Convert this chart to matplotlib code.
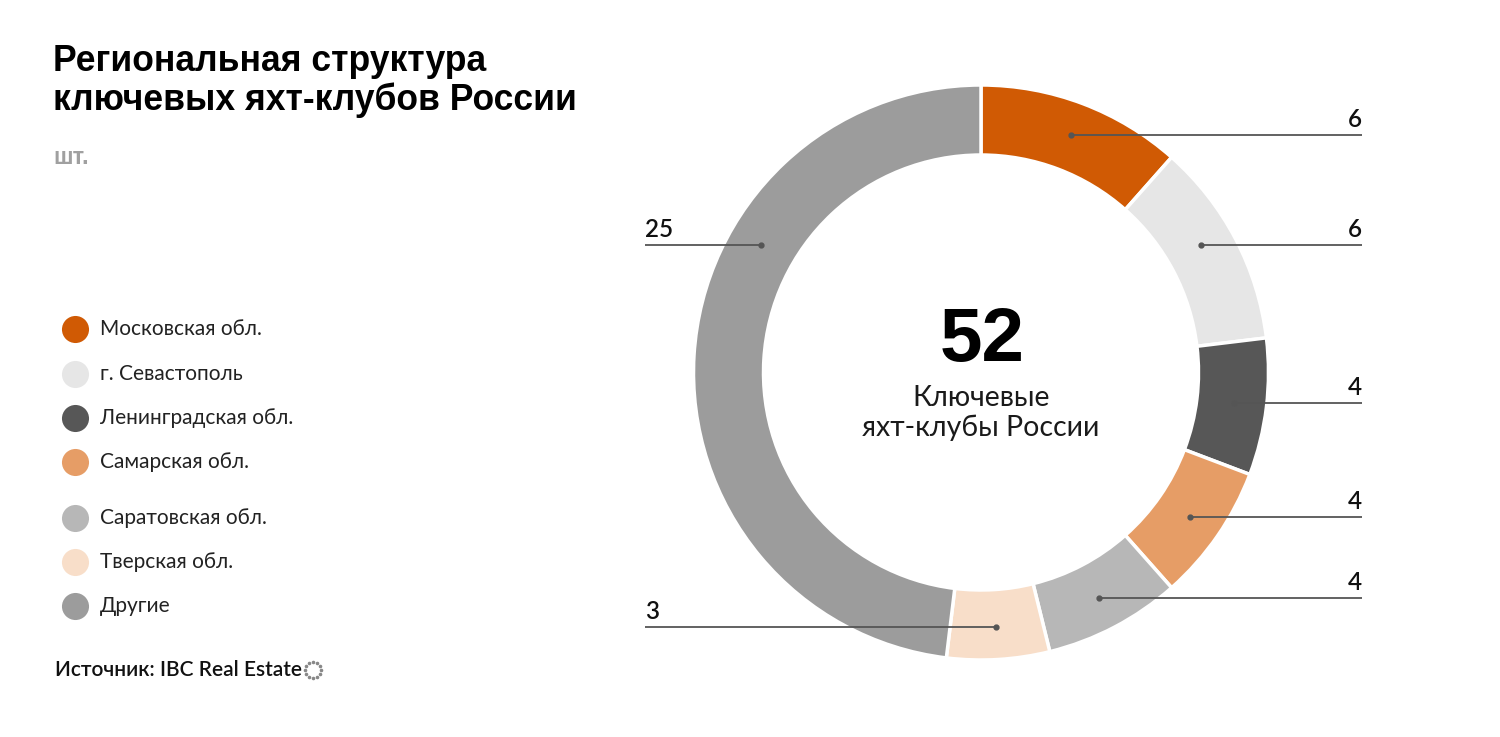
import matplotlib
matplotlib.use("Agg")
import matplotlib.pyplot as plt
import numpy as np

# ---- data ----
categories = ["Московская обл.", "г. Севастополь", "Ленинградская обл.",
              "Самарская обл.", "Саратовская обл.", "Тверская обл.", "Другие"]
values = [6, 6, 4, 4, 4, 3, 25]
colors = ["#D05A04", "#E6E6E6", "#575757", "#E69D66", "#B7B7B7", "#F8DEC9", "#9C9C9C"]
total_label = "52"
center_caption = "Ключевые\nяхт-клубы России"
title = "Региональная структура\nключевых яхт-клубов России"
unit = "шт."
source = "Источник: IBC Real Estate"

W, H = 1500, 737
fig = plt.figure(figsize=(W / 100, H / 100), dpi=100)
ax = fig.add_axes([0, 0, 1, 1])

def Y(py):
    return H - py

cx, cy = 981, Y(372.5)
R = 287.5
ring = 70

wedges, _ = ax.pie(values, colors=colors, startangle=90, counterclock=False,
                   radius=R, center=(cx, cy),
                   wedgeprops=dict(width=ring, edgecolor="white", linewidth=2.5))
ax.set_xlim(0, W)
ax.set_ylim(0, H)
ax.set_aspect("equal", adjustable="box")
ax.axis("off")

# ---- leader lines ----
r_mid = R - ring / 2 + 2
side = ["r", "r", "r", "r", "r", "l", "l"]
angle_override = {1: 30.0, 6: 150.0}
x_right, x_left = 1362, 645
for i, w in enumerate(wedges):
    ang = angle_override.get(i, (w.theta1 + w.theta2) / 2)
    px = cx + r_mid * np.cos(np.radians(ang))
    py = cy + r_mid * np.sin(np.radians(ang))
    xe = x_right if side[i] == "r" else x_left
    ax.plot([px, xe], [py, py], color="#555555", lw=1.3, solid_capstyle="butt", zorder=5)
    ax.plot([px], [py], "o", color="#555555", ms=3.5, zorder=6)
    ax.text(xe, py + 4, str(values[i]), ha="right" if side[i] == "r" else "left",
            va="bottom", fontsize=17.5, fontweight="semibold", family="Lato", color="#111111")

# ---- center ----
ax.text(cx + 1, Y(341), total_label, ha="center", va="center", fontsize=55,
        fontweight="bold", family="Liberation Sans", color="#000000")
ax.text(cx, Y(413), center_caption, ha="center", va="center", fontsize=20.5,
        family="Lato", fontweight="normal", color="#1a1a1a", linespacing=1.18)

# ---- title ----
fig.text(53 / W, 1 - 44 / H, title, ha="left", va="top", fontsize=25.6,
         fontweight="bold", family="Liberation Sans", color="#000000", linespacing=1.14)
fig.text(53 / W, 1 - 157 / H, unit, ha="left", va="center", fontsize=17,
         fontweight="bold", family="Liberation Sans", color="#a0a0a0")

# ---- legend ----
leg_y = [329, 374, 418, 462, 518, 562, 606]
for c, lab, ly in zip(colors, categories, leg_y):
    ax.scatter([75], [Y(ly)], s=380, color=c, zorder=5, linewidths=0)
    ax.text(100, Y(ly), lab, ha="left", va="center", fontsize=15, family="Lato",
            color="#222222")

# ---- source ----
ax.text(55, Y(670), source, ha="left", va="center", fontsize=15, family="Lato",
        fontweight="semibold", color="#111111")
t = np.linspace(0, 2 * np.pi, 12, endpoint=False)
ax.scatter(313 + 8 * np.cos(t), Y(670) + 8 * np.sin(t), s=2.5, color="#888888", zorder=5)

fig.savefig("out.png", dpi=100, facecolor="white")
